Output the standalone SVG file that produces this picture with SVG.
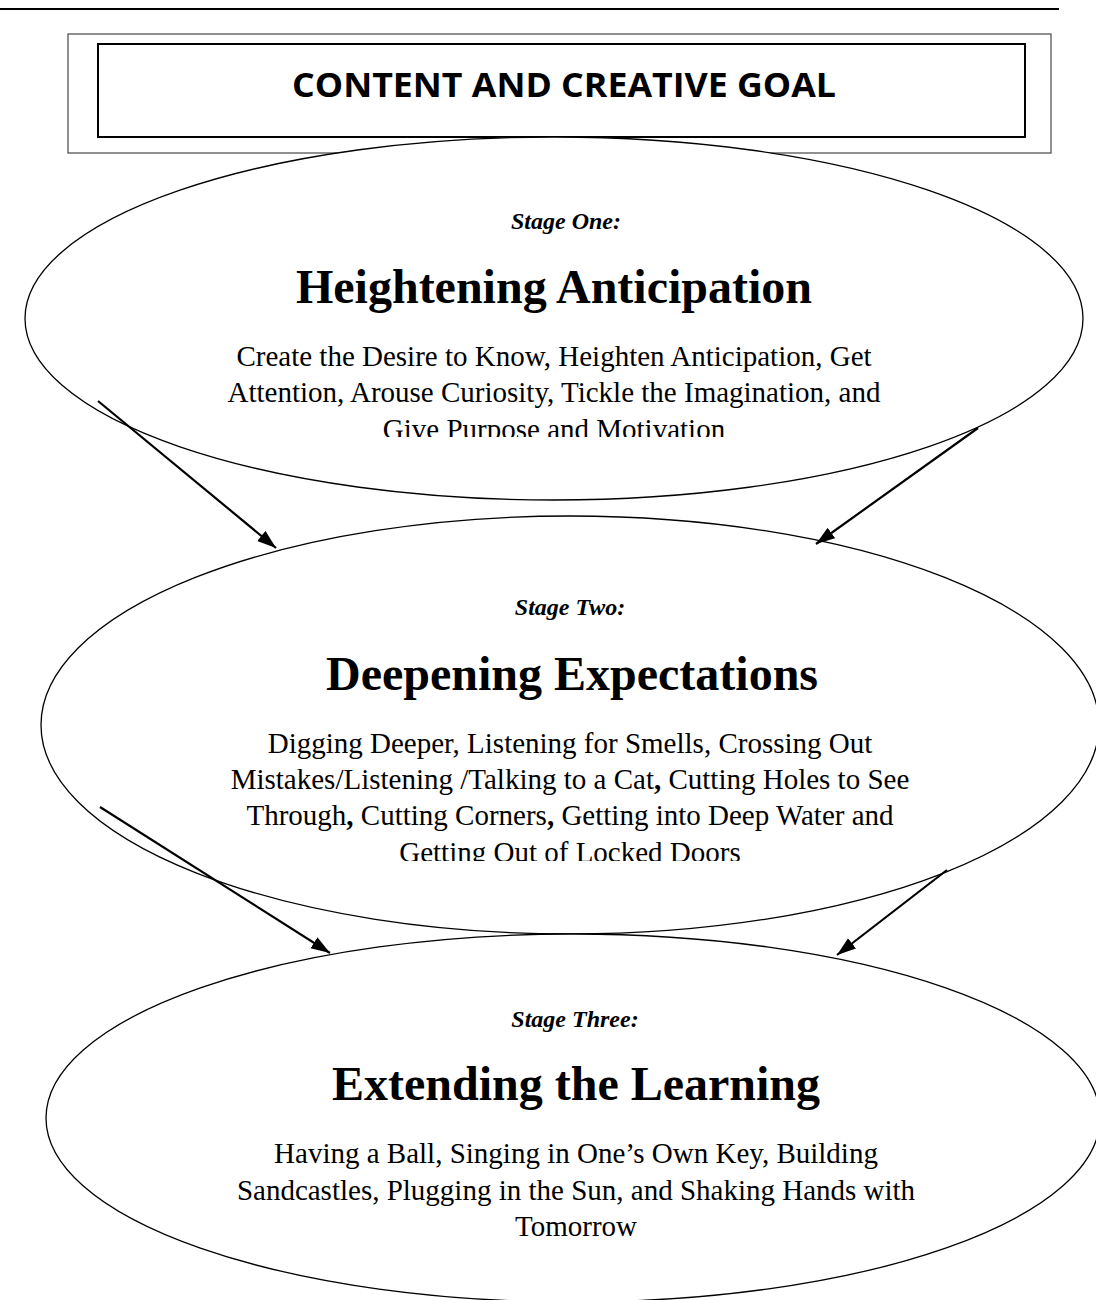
<svg xmlns="http://www.w3.org/2000/svg" width="1096" height="1300" viewBox="0 0 1096 1300">
<style>
.ell{fill:#fff;stroke:#000;stroke-width:1.3}
.lbl{font-family:"Liberation Serif","Times New Roman",serif;font-size:24px;font-weight:bold;font-style:italic;text-anchor:middle;fill:#000}
.ttl{font-family:"Liberation Serif","Times New Roman",serif;font-size:48px;font-weight:bold;text-anchor:middle;fill:#000}
.body{font-family:"Liberation Serif","Times New Roman",serif;font-size:29px;text-anchor:middle;fill:#000}
.arr{stroke:#000;stroke-width:2.2;fill:none;marker-end:url(#ah)}
</style>
<defs>
<marker id="ah" markerUnits="userSpaceOnUse" markerWidth="20" markerHeight="14" refX="19" refY="6.5" orient="auto">
<path d="M0,0 L19,6.5 L0,13 z" fill="#000"/>
</marker>
<clipPath id="c1"><rect x="0" y="410" width="1096" height="27"/></clipPath>
<clipPath id="c2"><rect x="0" y="830" width="1096" height="31"/></clipPath>
</defs>
<rect width="1096" height="1300" fill="#fff"/>
<line x1="0" y1="9" x2="1059" y2="9" stroke="#000" stroke-width="2"/>
<g id="goal">
<rect x="68" y="34" width="983" height="119" fill="#fff" stroke="#555" stroke-width="1.3"/>
<rect x="98" y="44" width="927" height="93" fill="#fff" stroke="#000" stroke-width="2"/>
<text x="564" y="97" font-family="'Open Sans','Liberation Sans',sans-serif" font-size="34" font-weight="bold" text-anchor="middle" textLength="544" lengthAdjust="spacingAndGlyphs">CONTENT AND CREATIVE GOAL</text>
</g>
<g id="stage1">
<ellipse class="ell" cx="554" cy="318.5" rx="529" ry="181.5"/>
<text class="lbl" x="566" y="229">Stage One:</text>
<text class="ttl" x="554" y="303">Heightening Anticipation</text>
<text class="body" x="554" y="366">Create the Desire to Know, Heighten Anticipation, Get</text>
<text class="body" x="554" y="402">Attention, Arouse Curiosity, Tickle the Imagination, and</text>
<text class="body" x="554" y="439" clip-path="url(#c1)">Give Purpose and Motivation</text>
</g>
<g id="stage2">
<ellipse class="ell" cx="570" cy="725" rx="529" ry="209"/>
<text class="lbl" x="570" y="615">Stage Two:</text>
<text class="ttl" x="572" y="690">Deepening Expectations</text>
<text class="body" x="570" y="753">Digging Deeper, Listening for Smells, Crossing Out</text>
<text class="body" x="570" y="789">Mistakes/Listening /Talking to a Cat<tspan font-weight="bold">,</tspan> Cutting Holes to See</text>
<text class="body" x="570" y="825">Through<tspan font-weight="bold">,</tspan> Cutting Corners<tspan font-weight="bold">,</tspan> Getting into Deep Water and</text>
<text class="body" x="570" y="862" clip-path="url(#c2)">Getting Out of Locked Doors</text>
</g>
<g id="stage3">
<ellipse class="ell" cx="573" cy="1118" rx="527" ry="184"/>
<text class="lbl" x="575" y="1027">Stage Three:</text>
<text class="ttl" x="576" y="1100">Extending the Learning</text>
<text class="body" x="576" y="1163">Having a Ball, Singing in One’s Own Key, Building</text>
<text class="body" x="576" y="1200">Sandcastles, Plugging in the Sun, and Shaking Hands with</text>
<text class="body" x="576" y="1236">Tomorrow</text>
</g>
<g id="connectors">
<line class="arr" x1="98" y1="401" x2="276" y2="548"/>
<line class="arr" x1="978" y1="428" x2="816" y2="544"/>
<line class="arr" x1="100" y1="807" x2="330" y2="953"/>
<line class="arr" x1="947" y1="870" x2="837" y2="955"/>
</g>
</svg>
